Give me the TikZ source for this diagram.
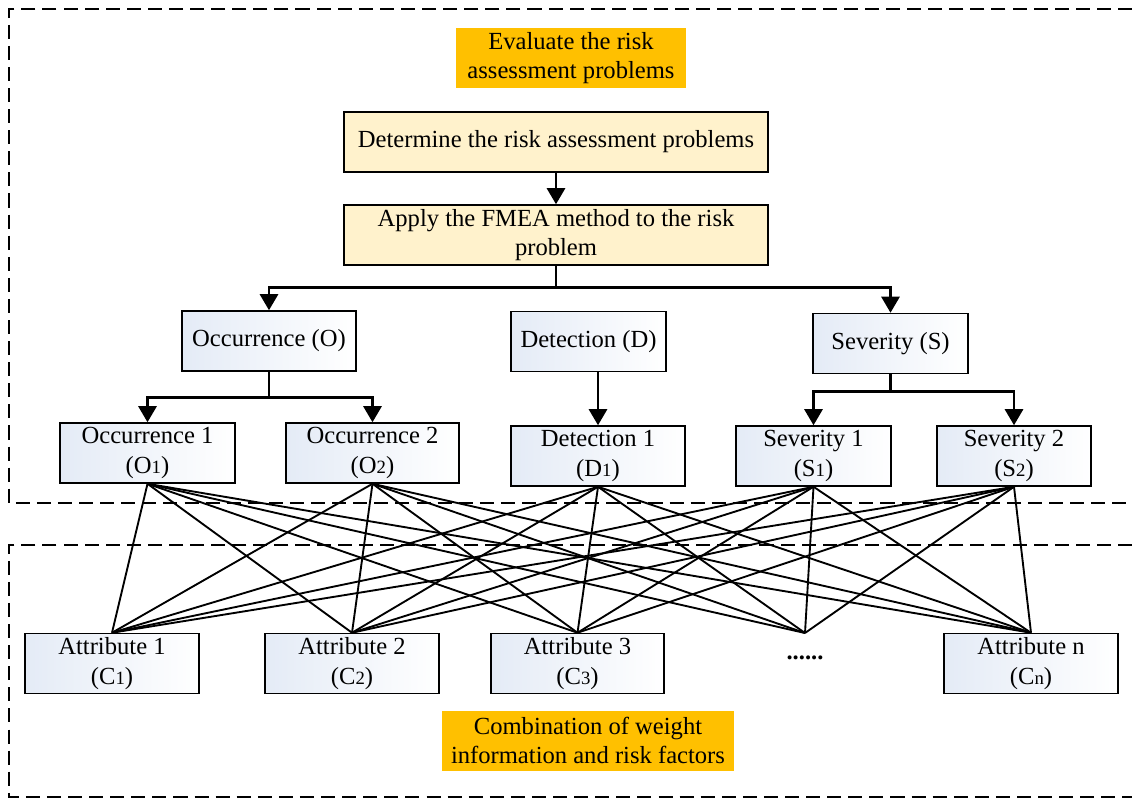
\documentclass[tikz,border=0pt]{standalone}
\usepackage{fontspec}
\setmainfont{Liberation Serif}
\usetikzlibrary{arrows.meta}

\definecolor{tagorange}{HTML}{FFC000}
\definecolor{stepyellow}{HTML}{FFF2CC}
\definecolor{boxblue}{HTML}{E4EBF6}

% small index digit, as in (O1)
\newcommand{\idx}[1]{{\fontsize{16}{16}\selectfont #1}}

\begin{document}
\begin{tikzpicture}[x=0.03cm, y=-0.03cm, font=\fontsize{21}{25}\selectfont,
  >={Triangle[length=0.48cm, width=0.54cm]},
  tagbox/.style={fill=tagorange, align=center, inner sep=0pt, minimum height=1.8cm},
  stepbox/.style={draw, line width=1.3pt, fill=stepyellow, minimum width=12.72cm,
    minimum height=1.8cm, align=center, inner sep=0pt},
  bluebox/.style={draw, line width=1.3pt, left color=boxblue, right color=white,
    minimum height=1.8cm, align=center, inner sep=0pt},
  tree/.style={line width=2.3pt},
  web/.style={line width=1.6pt},
  frame/.style={line width=1.3pt, dash pattern=on 12pt off 6pt}]

\useasboundingbox (0,0) rectangle (1132,798);

% dashed frames (open on the right)
\draw[frame] (1132,9) -- (9,9) -- (9,503) -- (1132,503);
\draw[frame] (1132,545) -- (9,545) -- (9,797) -- (1132,797);

% top part
\node[tagbox, minimum width=6.9cm] (evaluate) at (571,58) {Evaluate the risk\\assessment problems};
\node[stepbox] (determine) at (556,142) {Determine the risk assessment problems};
\node[stepbox] (apply) at (556,235) {Apply the FMEA method to the risk\\problem};

% risk factors
\node[bluebox, minimum width=5.22cm] (occ) at (269,341) {Occurrence (O)};
\node[bluebox, minimum width=4.65cm] (det) at (588.5,341.5) {Detection (D)};
\node[bluebox, minimum width=4.65cm] (sev) at (890.5,343.5) {Severity (S)};

\node[bluebox, minimum width=5.25cm] (occ1) at (147.5,453) {Occurrence 1\\(O\idx{1})};
\node[bluebox, minimum width=5.2cm] (occ2) at (372.5,453) {Occurrence 2\\(O\idx{2})};
\node[bluebox, minimum width=5.22cm] (det1) at (598,456) {Detection 1\\(D\idx{1})};
\node[bluebox, minimum width=4.65cm] (sev1) at (813.5,456) {Severity 1\\(S\idx{1})};
\node[bluebox, minimum width=4.62cm] (sev2) at (1014,456) {Severity 2\\(S\idx{2})};

% attributes
\node[bluebox, minimum width=5.22cm] (att1) at (112,663.5) {Attribute 1\\(C\idx{1})};
\node[bluebox, minimum width=5.22cm] (att2) at (352,663.5) {Attribute 2\\(C\idx{2})};
\node[bluebox, minimum width=5.19cm] (att3) at (577.5,663.5) {Attribute 3\\(C\idx{3})};
\node[bluebox, minimum width=5.22cm] (attn) at (1031,663.5) {Attribute n\\(C\idx{n})};
\coordinate (more) at (805,633);
\node (dots) at (805,658) {\textbf{......}};

\node[tagbox, minimum width=8.76cm] (combine) at (588,740.5) {Combination of weight\\information and risk factors};

% tree connectors
\draw[tree,->] (determine) -- (apply);
\draw[tree] (apply.south) -- ++(0,22) coordinate (split);
\draw[tree,->] (split) -| (occ.north);
\draw[tree,->] (split) -| (sev.north);
\draw[tree] (occ.south) -- ++(0,26) coordinate (occsplit);
\draw[tree,->] (occsplit) -| (occ1.north);
\draw[tree,->] (occsplit) -| (occ2.north);
\draw[tree,->] (det1.north |- det.south) -- (det1.north);
\draw[tree] (sev.south) -- ++(0,17) coordinate (sevsplit);
\draw[tree,->] (sevsplit) -| (sev1.north);
\draw[tree,->] (sevsplit) -| (sev2.north);

% every factor to every attribute
\foreach \fac in {occ1,occ2,det1,sev1,sev2}
  \foreach \att in {att1.north,att2.north,att3.north,more,attn.north}
    \draw[web] (\fac.south) -- (\att);

\end{tikzpicture}
\end{document}
